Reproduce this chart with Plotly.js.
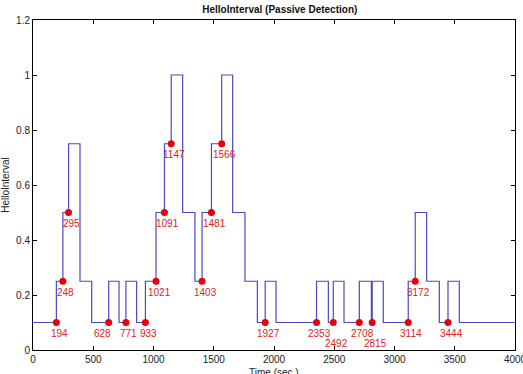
<!DOCTYPE html>
<html>
<head>
<meta charset="utf-8">
<script src="https://cdn.plot.ly/plotly-3.0.1.min.js"></script>
<style>
  html, body { margin: 0; padding: 0; background: #fff; overflow: hidden; }
  #chart { width: 523px; height: 374px; }
</style>
</head>
<body>
<div id="chart"></div>
<script>
// HelloInterval step trace: time (s) where the value changes, and the new value
const stepTimes = [0, 194, 248, 295, 390, 487, 628, 714, 771, 860, 933, 1021, 1091, 1147,
  1242, 1344, 1403, 1481, 1566, 1657, 1759, 1862, 1927, 2017, 2353, 2451, 2492, 2581,
  2708, 2808, 2815, 2907, 3114, 3172, 3267, 3372, 3444, 3538, 4000];
const stepValues = [0.1, 0.25, 0.5, 0.75, 0.25, 0.1, 0.25, 0.1, 0.25, 0.1, 0.25, 0.5, 0.75, 1.0,
  0.5, 0.25, 0.5, 0.75, 1.0, 0.5, 0.25, 0.1, 0.25, 0.1, 0.25, 0.1, 0.25, 0.1,
  0.25, 0.1, 0.25, 0.1, 0.25, 0.5, 0.25, 0.1, 0.25, 0.1, 0.1];

// Detection events (time, HelloInterval just before the update)
const detectTimes = [194, 248, 295, 628, 771, 933, 1021, 1091, 1147, 1403, 1481, 1566,
  1927, 2353, 2492, 2708, 2815, 3114, 3172, 3444];
const detectValues = [0.1, 0.25, 0.5, 0.1, 0.1, 0.1, 0.25, 0.5, 0.75, 0.25, 0.5, 0.75,
  0.1, 0.1, 0.1, 0.1, 0.1, 0.1, 0.25, 0.1];

const xTicks = [0, 500, 1000, 1500, 2000, 2500, 3000, 3500, 4000];
const yTicks = [0, 0.2, 0.4, 0.6, 0.8, 1, 1.2];
const yTickText = ['0', '0.2', '0.4', '0.6', '0.8', '1', '1.2'];

// labels nudged so they don't collide with a neighbour
const droppedLabels = new Set([2492, 2815]);
const leftLabels = new Set([628]);

const FONT = 'Liberation Sans, Arial, sans-serif';

const stepTrace = {
  x: stepTimes, y: stepValues,
  type: 'scatter', mode: 'lines',
  line: { shape: 'hv', color: '#4a4ac4', width: 1.2 },
  hoverinfo: 'skip'
};
const dotTrace = {
  x: detectTimes, y: detectValues,
  type: 'scatter', mode: 'markers',
  marker: { color: '#e8000b', size: 7 },
  hoverinfo: 'skip'
};

const annotations = detectTimes.map((t, i) => ({
  x: t, y: detectValues[i], xref: 'x', yref: 'y',
  text: String(t), showarrow: false,
  xshift: leftLabels.has(t) ? -6 : 3,
  yshift: droppedLabels.has(t) ? -21 : -11,
  font: { family: FONT, size: 10, color: '#e02020' }
}));

// x-axis title sits low, just under the tick labels
annotations.push({
  x: 0.5, y: -0.068, xref: 'paper', yref: 'paper',
  xanchor: 'center', yanchor: 'middle',
  text: 'Time (sec.)', showarrow: false,
  font: { family: FONT, size: 10, color: '#222' }
});

const axisCommon = {
  showgrid: false, zeroline: false, showline: true, mirror: 'ticks',
  linecolor: '#000', linewidth: 1,
  ticks: 'inside', ticklen: 4, tickcolor: '#000',
  ticklabeloverflow: 'allow',
  tickfont: { family: FONT, size: 10, color: '#222' }
};

const layout = {
  width: 523, height: 374,
  margin: { l: 33, r: 8, t: 20, b: 24 },
  paper_bgcolor: '#fff', plot_bgcolor: '#fff',
  showlegend: false,
  title: {
    text: '<b>HelloInterval (Passive Detection)</b>',
    font: { family: FONT, size: 10, color: '#111' },
    x: 0.535, xanchor: 'center', y: 0.985, yanchor: 'top'
  },
  xaxis: Object.assign({}, axisCommon, {
    range: [0, 4000], tickvals: xTicks, ticktext: xTicks.map(String)
  }),
  yaxis: Object.assign({}, axisCommon, {
    range: [0, 1.2], tickvals: yTicks, ticktext: yTickText,
    title: { text: 'HelloInterval', standoff: 4,
      font: { family: FONT, size: 10, color: '#222' } }
  }),
  annotations: annotations
};

Plotly.newPlot('chart', [stepTrace, dotTrace], layout, { displayModeBar: false, staticPlot: true });
</script>
</body>
</html>
